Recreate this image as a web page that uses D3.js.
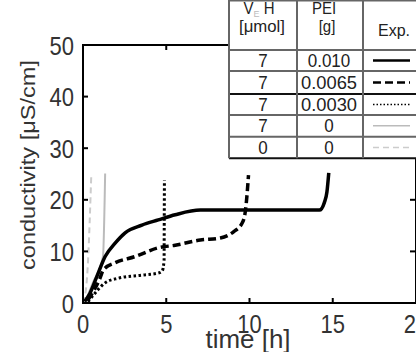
<!DOCTYPE html>
<html>
<head>
<meta charset="utf-8">
<script src="https://cdn.jsdelivr.net/npm/d3@7"></script>
<style>
  body { margin: 0; background: #fff; }
  svg { display: block; font-family: "Liberation Sans", Arial, sans-serif; }
</style>
</head>
<body>
<svg id="chart" width="416" height="352"></svg>
<script>
// data: [time h, conductivity uS/cm]
const pei010 = [[0.1,0.3],[0.42,1.9],[0.83,5.1],[1.33,9.0],[1.93,11.6],[2.53,13.6],[3.54,15.1],
  [4.52,16.1],[5.54,17.1],[7.05,18.0],[10,18.0],[14.2,18.0],[14.5,19.5],[14.65,21.5],[14.76,25.2]];
const pei0065 = [[0.3,0.6],[1.02,4.8],[1.22,6.4],[1.93,7.8],[3.13,9.0],[4.52,10.7],[5.54,11.2],
  [7.05,12.2],[8.25,12.6],[9.04,13.8],[9.56,15.5],[9.76,18.0],[9.86,21.3],[9.94,24.8]];
const pei0030 = [[0.3,0.25],[0.72,1.9],[1.33,3.9],[2.11,4.8],[3.54,5.4],[4.52,5.8],[4.76,6.2],
  [4.87,8.3],[4.88,16],[4.89,23.8]];
const pei0 = [[0.1,0.0],[0.6,4.0],[1.2,9.0],[1.33,25.1]];
const noVeh = [[0.05,0.0],[0.3,8.0],[0.5,25.1]];

const xTicks = [0, 5, 10, 15, 20];
const yTicks = [0, 10, 20, 30, 40, 50];

const vehCol = ["7", "7", "7", "7", "0"];
const peiCol = ["0.010", "0.0065", "0.0030", "0", "0"];
const styles = [
  {stroke: "#000", width: 3.5, dash: null},
  {stroke: "#000", width: 3.5, dash: "8,4"},
  {stroke: "#000", width: 3, dash: "2.5,2.5"},
  {stroke: "#bbb", width: 2, dash: null},
  {stroke: "#ccc", width: 2, dash: "6,4"}
];
const series = [pei010, pei0065, pei0030, pei0, noVeh];

const svg = d3.select("#chart");
const x = d3.scaleLinear().domain([0, 20]).range([83, 416]);
const y = d3.scaleLinear().domain([0, 50]).range([303, 45]);

// curves (gray first so the black ones sit on top)
const line = d3.line().x(d => x(d[0])).y(d => y(d[1])).curve(d3.curveMonotoneX);
[4, 3, 2, 1, 0].forEach(i => {
  svg.append("path").datum(series[i])
    .attr("d", line)
    .attr("fill", "none")
    .attr("stroke", styles[i].stroke)
    .attr("stroke-width", styles[i].width)
    .attr("stroke-dasharray", styles[i].dash);
});

// frame with inward ticks
const frame = svg.append("g").attr("stroke", "#000").attr("stroke-width", 2);
frame.append("rect").attr("x", x(0)).attr("y", y(50)).attr("width", x(20) - x(0)).attr("height", y(0) - y(50))
  .attr("fill", "none");
xTicks.slice(1, -1).forEach(t => {
  frame.append("line").attr("x1", x(t)).attr("x2", x(t)).attr("y1", y(0)).attr("y2", y(0) - 5);
  frame.append("line").attr("x1", x(t)).attr("x2", x(t)).attr("y1", y(50)).attr("y2", y(50) + 5);
});
yTicks.slice(1, -1).forEach(v => {
  frame.append("line").attr("x1", x(0)).attr("x2", x(0) + 5).attr("y1", y(v)).attr("y2", y(v));
  frame.append("line").attr("x1", x(20)).attr("x2", x(20) - 6).attr("y1", y(v)).attr("y2", y(v));
});

// tick labels (picture is stretched vertically)
yTicks.forEach(v => {
  svg.append("g").attr("transform", `translate(74,${y(v)}) scale(1,1.2)`)
    .append("text").attr("text-anchor", "end").attr("dy", "0.36em")
    .attr("font-size", 22).attr("fill", "#333").text(v);
});
xTicks.forEach(t => {
  svg.append("g").attr("transform", `translate(${x(t)},333) scale(1,1.2)`)
    .append("text").attr("text-anchor", "middle")
    .attr("font-size", 22).attr("fill", "#333").text(t);
});

// axis titles
svg.append("g").attr("transform", "translate(248,348) scale(1,1.2)")
  .append("text").attr("text-anchor", "middle").attr("font-size", 22).attr("fill", "#333")
  .attr("textLength", 85).attr("lengthAdjust", "spacingAndGlyphs").text("time [h]");
svg.append("g").attr("transform", "translate(35,165) rotate(-90)")
  .append("text").attr("text-anchor", "middle").attr("font-size", 20).attr("fill", "#333")
  .attr("textLength", 210).attr("lengthAdjust", "spacingAndGlyphs").text("conductivity [\u03bcS/cm]");

// table in the upper right corner
const tbl = svg.append("g");
const colX = [229, 297, 363, 430];
const rowY = [0.5, 50, 71, 94, 115, 136.7, 158.3];
tbl.append("rect").attr("x", colX[0]).attr("y", 0).attr("width", colX[3] - colX[0]).attr("height", rowY[6])
  .attr("fill", "#fff");
rowY.forEach((ry, i) => {
  tbl.append("line").attr("x1", colX[0]).attr("x2", colX[3]).attr("y1", ry).attr("y2", ry)
    .attr("stroke", (i === 3 || i === 6) ? "#111" : "#666").attr("stroke-width", 2);
});
colX.slice(0, 3).forEach(cx => {
  tbl.append("line").attr("x1", cx).attr("x2", cx).attr("y1", 0).attr("y2", rowY[6])
    .attr("stroke", "#666").attr("stroke-width", 2);
});

function cell(cx, cy, txt, size, len) {
  const t = tbl.append("g").attr("transform", `translate(${cx},${cy}) scale(1,1.08)`)
    .append("text").attr("text-anchor", "middle").attr("dy", "0.36em")
    .attr("font-size", size).attr("fill", "#222").text(txt);
  if (len) t.attr("textLength", len).attr("lengthAdjust", "spacingAndGlyphs");
  return t;
}
// header
const vh = tbl.append("g").attr("transform", "translate(259,8) scale(1,1.08)")
  .append("text").attr("text-anchor", "middle").attr("dy", "0.36em").attr("font-size", 15).attr("fill", "#222");
vh.append("tspan").text("V");
vh.append("tspan").attr("font-size", 9).attr("dy", 3).attr("fill", "#bbb").text("E");
vh.append("tspan").attr("dy", -3).text(" H");
cell(262, 26, "[\u03bcmol]", 15, 46);
cell(324, 8, "PEI", 15);
cell(327, 26, "[g]", 15);
cell(394, 30, "Exp.", 16);

vehCol.forEach((v, i) => {
  const cy = (rowY[i + 1] + rowY[i + 2]) / 2;
  cell(263, cy, v, 17);
  cell(329, cy, peiCol[i], 17, peiCol[i].length > 5 ? 56 : null);
  tbl.append("line").attr("x1", 373).attr("x2", 410).attr("y1", cy).attr("y2", cy)
    .attr("stroke", styles[i].stroke)
    .attr("stroke-width", i < 3 ? (i === 2 ? 1.5 : 2.5) : 1.5)
    .attr("stroke-dasharray", i === 2 ? "1.5,2" : styles[i].dash);
});
</script>
</body>
</html>
